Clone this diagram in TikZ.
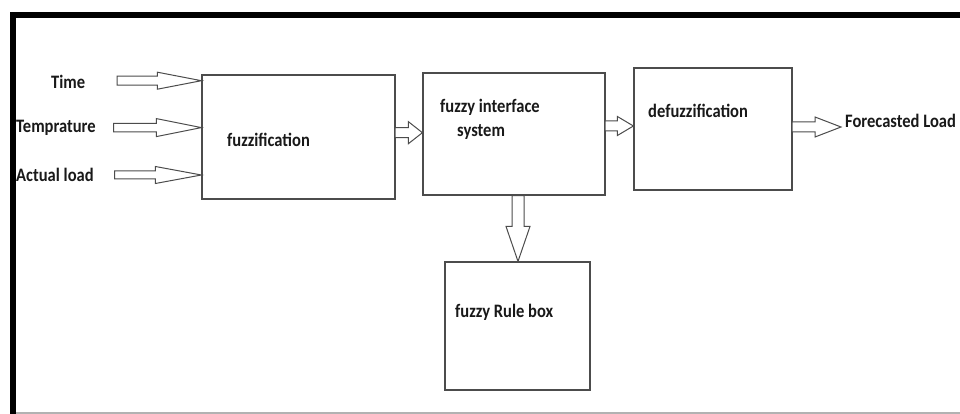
\documentclass[tikz,border=0pt]{standalone}
\usepackage{fontspec}
\setmainfont[FakeStretch=0.87]{Carlito}
\usetikzlibrary{calc}
\newcommand\hbarrow[5]{%
  \draw[arrowline] let \p1=(#1), \p2=(#2) in
    (\x1,\y2+#3) -- (\x2-#4,\y2+#3) -- (\x2-#4,\y2+#5) -- (\x2,\y2)
    -- (\x2-#4,\y2-#5) -- (\x2-#4,\y2-#3) -- (\x1,\y2-#3) -- cycle;}
\newcommand\vbarrow[5]{%
  \draw[arrowline] let \p1=(#1), \p2=(#2) in
    (\x2-#3,\y1) -- (\x2-#3,\y2+#4) -- (\x2-#5,\y2+#4) -- (\x2,\y2)
    -- (\x2+#5,\y2+#4) -- (\x2+#3,\y2+#4) -- (\x2+#3,\y1) -- cycle;}
\begin{document}
\begin{tikzpicture}[x=1pt,y=-1pt,
  blk/.style={draw=black!70, line width=1.2pt, inner sep=0pt},
  arrowline/.style={draw=black!70, line width=1pt, fill=white, line join=miter},
  lbl/.style={inner sep=0pt, anchor=base west, text=black!90,
    font=\fontsize{19}{22}\selectfont\bfseries}]
\useasboundingbox (0,0) rectangle (960,414);
\fill[white] (0,0) rectangle (960,414);
% frame
\draw[black!30, line width=1.5pt] (12,413) -- (960,413);
\draw[black, line width=6pt] (12.5,414) -- (12.5,15) -- (960,15);
% boxes
\node[blk, minimum width=193pt, minimum height=124pt] (fz) at (298.5,137) {};
\node[blk, minimum width=182pt, minimum height=122pt] (fi) at (514,134) {};
\node[blk, minimum width=158pt, minimum height=122pt] (df) at (713,129) {};
\node[blk, minimum width=145pt, minimum height=128pt] (rb) at (517.5,326) {};
% texts
\node[lbl] (tfz) at (227,147) {fuzzification};
\node[lbl] (tfi1) at (440,113) {fuzzy interface};
\node[lbl] (tfi2) at (457,137) {system};
\node[lbl] (tdf) at (648,118) {defuzzification};
\node[lbl] (trb) at (455,317) {fuzzy Rule box};
\node[lbl] (tout) at (845,128) {Forecasted Load};
\node[lbl] (tin1) at (51,89) {Time};
\node[lbl] (tin2) at (16,133) {Temprature};
\node[lbl] (tin3) at (16,182) {Actual load};
% connector end points
\coordinate (s1) at (117,80.7);
\coordinate (s2) at (113.5,127.6);
\coordinate (s3) at (114.5,175);
\coordinate (s4) at (395,132.7);
\coordinate (s5) at (605,126);
\coordinate (s6) at (792,127);
\coordinate (e6) at (841,127);
\coordinate (s7) at (518,195);
% arrows
\hbarrow{s1}{fz.west |- s1}{4.5pt}{44pt}{8.5pt}
\hbarrow{s2}{fz.west |- s2}{4.2pt}{45pt}{9pt}
\hbarrow{s3}{fz.west |- s3}{4pt}{46pt}{8.5pt}
\hbarrow{s4}{fi.west |- s4}{5pt}{14pt}{11pt}
\hbarrow{s5}{df.west |- s5}{5pt}{16pt}{9.5pt}
\hbarrow{s6}{e6}{5pt}{26pt}{10pt}
\vbarrow{fi.south -| s7}{rb.north -| s7}{6pt}{35pt}{12pt}
\end{tikzpicture}
\end{document}
